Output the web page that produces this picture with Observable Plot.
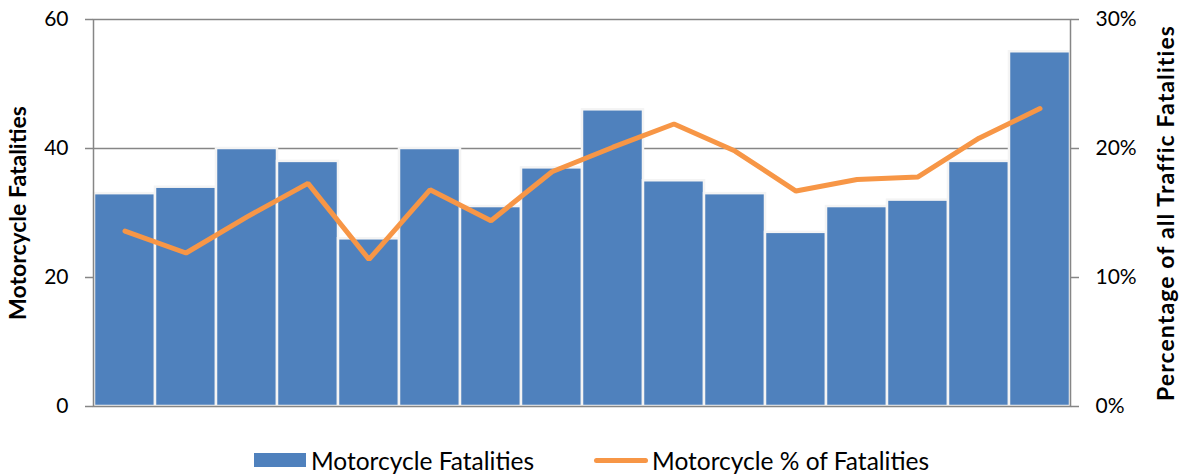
<!DOCTYPE html>
<html>
<head>
<meta charset="utf-8">
<script src="https://cdn.jsdelivr.net/npm/d3@7"></script>
<script src="https://cdn.jsdelivr.net/npm/@observablehq/plot@0.6"></script>
<style>
  html, body { margin: 0; padding: 0; background: #fff; }
  body { width: 1183px; font-family: Lato, "Open Sans", sans-serif; }
  #legend { display: flex; justify-content: center; align-items: center; height: 60px; font-size: 24.5px; color: #000; }
  .item { display: flex; align-items: center; }
  .sw-bar { width: 52px; height: 14px; background: #4F81BD; margin-right: 5px; }
  .sw-line { width: 54px; height: 5px; border-radius: 3px; background: #F79646; margin-right: 4px; }
</style>
</head>
<body>
<div id="chart"></div>
<div id="legend">
  <div class="item" style="margin-right:60px"><div class="sw-bar"></div><span>Motorcycle Fatalities</span></div>
  <div class="item"><div class="sw-line"></div><span>Motorcycle % of Fatalities</span></div>
</div>
<script>
const categories = ["1","2","3","4","5","6","7","8","9","10","11","12","13","14","15","16"];
const fatalities = [33, 34, 40, 38, 26, 40, 31, 37, 46, 35, 33, 27, 31, 32, 38, 55];
const percentOfAll = [13.6, 11.9, 14.7, 17.3, 11.4, 16.8, 14.4, 18.2, 20.1, 21.9, 19.8, 16.7, 17.6, 17.8, 20.8, 23.1];
const leftTicks = [0, 20, 40, 60];
const rightTicks = [0, 10, 20, 30];
const leftTitle = "Motorcycle Fatalities";
const rightTitle = "Percentage of all Traffic Fatalities";

const data = categories.map((c, i) => ({cat: c, n: fatalities[i], pct: percentOfAll[i]}));
const ratio = leftTicks[leftTicks.length - 1] / rightTicks[rightTicks.length - 1];

const chart = Plot.plot({
  width: 1183,
  height: 430,
  marginLeft: 93,
  marginRight: 113,
  marginTop: 19,
  marginBottom: 24,
  style: {fontFamily: "Lato, 'Open Sans', sans-serif", color: "#000", background: "#fff"},
  x: {domain: categories, padding: 0, axis: null},
  y: {domain: [0, 60], axis: null},
  marks: [
    Plot.ruleY([40], {stroke: "#868686", strokeWidth: 1.5}),
    Plot.barY(data, {x: "cat", y: "n", fill: "#4F81BD", stroke: "#f4f4f4", strokeWidth: 2.5}),
    Plot.frame({stroke: "#868686", strokeWidth: 1.5}),
    Plot.line(data, {x: "cat", y: d => d.pct * ratio, stroke: "#F79646", strokeWidth: 5, strokeLinejoin: "miter", strokeLinecap: "round"}),
    Plot.axisY(leftTicks, {anchor: "left", tickSize: 8, tickPadding: 17, fontSize: 21, stroke: "#868686", strokeWidth: 1.5, label: null, color: "#000"}),
    Plot.axisY(rightTicks.map(t => t * ratio), {anchor: "right", tickSize: 8, tickPadding: 17, fontSize: 21, stroke: "#868686", strokeWidth: 1.5, label: null, tickFormat: d => (d / ratio) + "%"}),
    Plot.text([leftTitle], {frameAnchor: "left", dx: -75, rotate: -90, textAnchor: "middle", fontWeight: "bold", fontSize: 23, fill: "#000"}),
    Plot.text([rightTitle], {frameAnchor: "right", dx: 96, rotate: -90, textAnchor: "middle", fontWeight: "bold", fontSize: 23, fill: "#000"})
  ]
});
d3.select(chart).selectAll("text").filter(function() { return this.textContent === rightTitle; })
  .style("letter-spacing", "1.1px");
document.getElementById("chart").appendChild(chart);
</script>
</body>
</html>
